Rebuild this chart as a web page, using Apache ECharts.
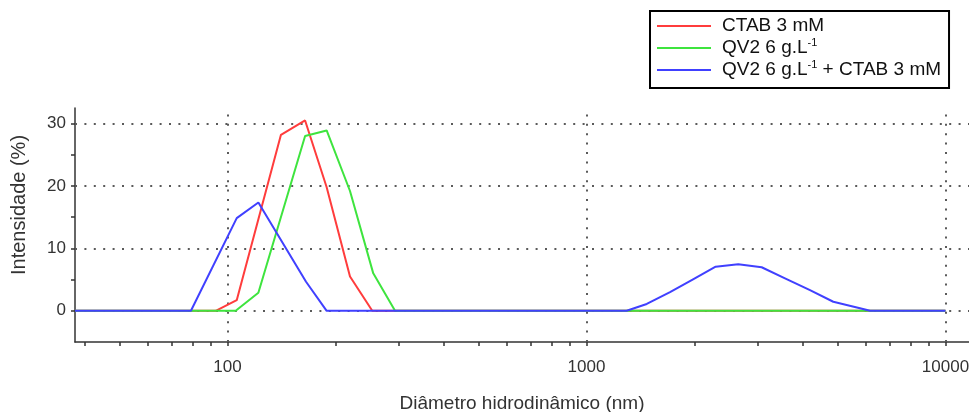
<!DOCTYPE html>
<html>
<head>
<meta charset="utf-8">
<script src="https://cdn.jsdelivr.net/npm/echarts@6/dist/echarts.min.js"></script>
<style>
  html, body { margin: 0; padding: 0; background: #fff; }
  #chart { width: 969px; height: 412px; }
</style>
</head>
<body>
<div id="chart"></div>
<script>
// diameters (nm) and intensities (%)
const ctabX = [37.6, 92.7, 106.1, 140.9, 164.5, 188.9, 219.4, 253.1, 10000];
const ctabY = [0, 0, 1.7, 28.2, 30.5, 19.8, 5.5, 0, 0];

const qv2X = [37.6, 105.4, 121.9, 164.5, 188.9, 219.4, 254.7, 292.9, 10000];
const qv2Y = [0, 0, 2.9, 28.0, 28.9, 19.2, 6.0, 0, 0];

const mixX = [37.6, 79.1, 106.1, 121.9, 165.5, 188.9, 1294, 1472, 1709, 1981, 2290, 2647, 3076, 3573, 4194, 4870, 5780, 6163, 10000];
const mixY = [0, 0, 14.85, 17.35, 4.66, 0, 0, 1.1, 3.0, 5.05, 7.07, 7.46, 6.98, 5.2, 3.3, 1.45, 0.4, 0, 0];

const seriesNames = ['CTAB 3 mM', 'QV2 6 g.L-1', 'QV2 6 g.L-1 + CTAB 3 mM'];
const seriesColors = ['#ff3c3c', '#3ee43e', '#4040ff'];

const xMajor = [100, 1000, 10000];
const xTicks = [40, 50, 60, 70, 80, 90, 100, 200, 300, 400, 500, 600, 700, 800, 900,
  1000, 2000, 3000, 4000, 5000, 6000, 7000, 8000, 9000, 10000];
const yMajor = [0, 10, 20, 30];
const yTicks = [0, 5, 10, 15, 20, 25, 30];

const zip = (xs, ys) => xs.map((x, i) => [x, ys[i]]);

function legendText(name) {
  const i = name.indexOf('-1');
  if (i < 0) return '{a|' + name + '}';
  const rest = name.slice(i + 2);
  return '{a|' + name.slice(0, i) + '}{s|-1}' + (rest ? '{b|' + rest + '}' : '');
}

const chart = echarts.init(document.getElementById('chart'));
const font = 'Liberation Sans, Arial, sans-serif';
const axisColor = '#333';
const gridDots = { color: '#5a5a5a', width: 2, type: [2, 7.4] };

chart.setOption({
  backgroundColor: '#fff',
  animation: false,
  grid: { left: 75, right: 0, top: 108, bottom: 70, outerBoundsMode: 'none', containLabel: false },
  legend: {
    orient: 'vertical',
    left: 650,
    top: 11,
    padding: [4, 8, 7, 7],
    borderColor: '#000',
    borderWidth: 2,
    icon: 'rect',
    itemWidth: 54,
    itemHeight: 2,
    itemGap: 0,
    data: seriesNames,
    formatter: legendText,
    textStyle: {
      color: '#111',
      fontFamily: font,
      fontSize: 19,
      lineHeight: 22,
      rich: {
        a: { fontFamily: font, fontSize: 19, lineHeight: 22, padding: [0, 0, 0, 6], color: '#111' },
        b: { fontFamily: font, fontSize: 19, lineHeight: 22, color: '#111' },
        s: { fontFamily: font, fontSize: 11, lineHeight: 22, padding: [0, 0, 11, 0], color: '#111' },
      },
    },
  },
  xAxis: {
    type: 'log',
    logBase: 10,
    min: 37.6,
    max: 11630,
    name: 'Diâmetro hidrodinâmico (nm)',
    nameLocation: 'middle',
    nameGap: 52,
    nameTextStyle: { color: '#333', fontSize: 19, fontFamily: font },
    axisLine: { onZero: false, lineStyle: { color: axisColor, width: 1.5 } },
    axisTick: { show: true, length: 4, customValues: xTicks, lineStyle: { color: axisColor, width: 1.5 } },
    axisLabel: {
      customValues: xMajor,
      margin: 17,
      color: '#333',
      fontSize: 17,
      fontFamily: font,
      formatter: (v) => String(Math.round(v)),
    },
    splitLine: { show: false },
  },
  yAxis: {
    type: 'value',
    min: -5,
    max: 32.5,
    name: 'Intensidade (%)',
    nameLocation: 'middle',
    nameGap: 46,
    nameTextStyle: { color: '#333', fontSize: 20, fontFamily: font, padding: [0, 0, 0, 40] },
    axisLine: { show: true, onZero: false, lineStyle: { color: axisColor, width: 1.5 } },
    axisTick: { show: true, length: 4, customValues: yTicks, lineStyle: { color: axisColor, width: 1.5 } },
    axisLabel: {
      customValues: yMajor,
      margin: 9,
      color: '#333',
      fontSize: 17,
      fontFamily: font,
    },
    splitLine: { show: false },
  },
  series: [
    {
      name: 'grid',
      type: 'line',
      data: [],
      z: 1,
      silent: true,
      markLine: {
        z: 1,
        silent: true,
        symbol: 'none',
        animation: false,
        label: { show: false },
        emphasis: { disabled: true },
        lineStyle: gridDots,
        data: yMajor.map((v) => ({ yAxis: v })).concat(xMajor.map((v) => ({ xAxis: v }))),
      },
    },
    ...[zip(ctabX, ctabY), zip(qv2X, qv2Y), zip(mixX, mixY)].map((d, i) => ({
      name: seriesNames[i],
      type: 'line',
      data: d,
      z: 3 + i,
      symbol: 'none',
      clip: true,
      color: seriesColors[i],
      lineStyle: { color: seriesColors[i], width: 2 },
    })),
  ],
});
</script>
</body>
</html>
